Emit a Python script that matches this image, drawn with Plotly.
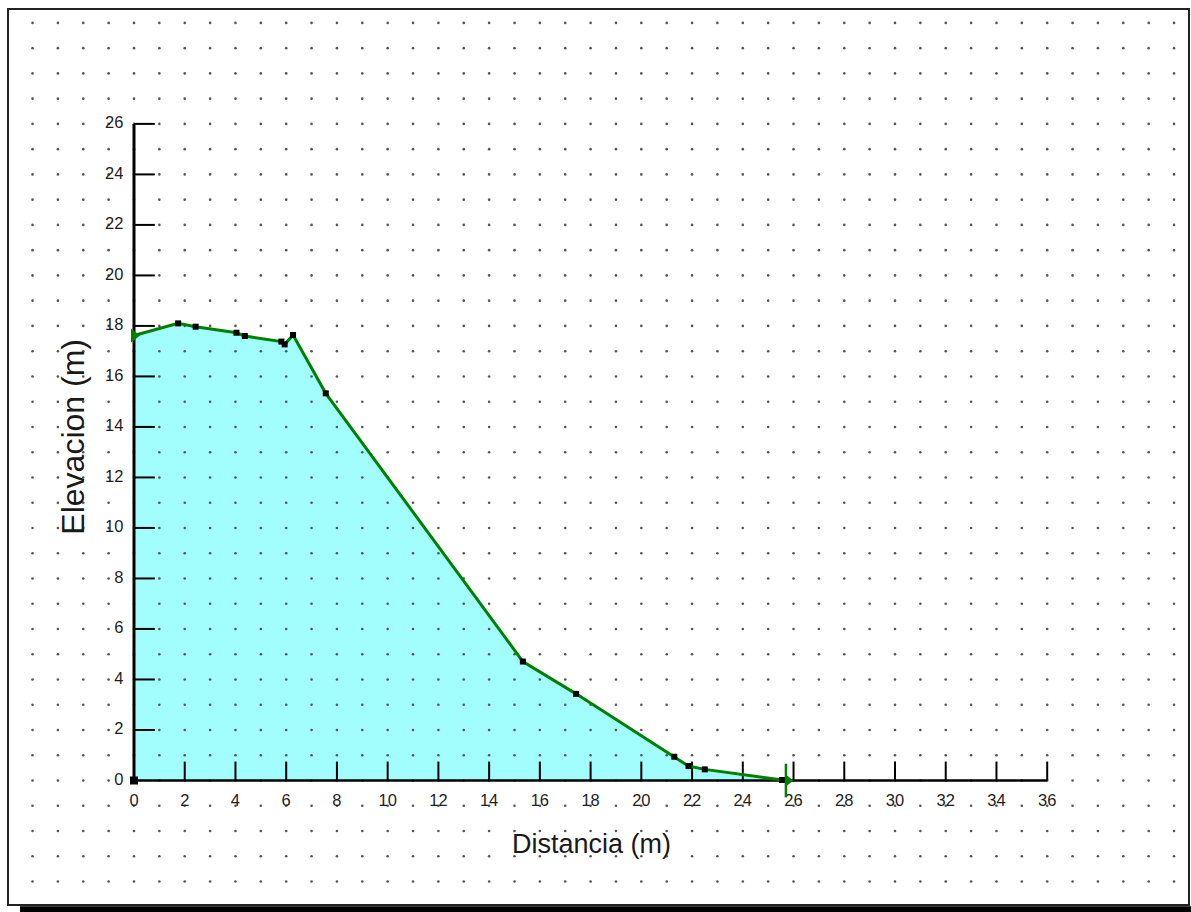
import plotly.graph_objects as go

# ---- data ----
dist_line = [0.0, 1.74, 2.43, 4.04, 4.37, 5.81, 5.94, 6.27, 7.56, 15.33, 17.43, 21.30, 21.86, 22.50, 25.70]
elev_line = [17.62, 18.10, 17.97, 17.73, 17.60, 17.38, 17.27, 17.64, 15.33, 4.71, 3.43, 0.94, 0.57, 0.44, 0.0]

pts_x = [1.74, 2.43, 4.04, 4.37, 5.81, 5.94, 6.27, 7.56, 15.33, 17.43, 21.30, 21.86, 22.50, 25.55]
pts_y = [18.10, 17.97, 17.73, 17.60, 17.38, 17.27, 17.64, 15.33, 4.71, 3.43, 0.94, 0.57, 0.44, 0.02]
origin_x = [0.0]
origin_y = [0.0]

x_ticks = list(range(0, 37, 2))
y_ticks = list(range(0, 27, 2))
x_title = "Distancia (m)"
y_title = "Elevacion (m)"

X_MAX, Y_MAX = 36, 26
X_RANGE = [-4.967, 41.59]
Y_RANGE = [-4.931, 30.55]

FONT = "Liberation Sans, Arial, sans-serif"

fig = go.Figure()

# filled profile
fig.add_trace(go.Scatter(x=dist_line, y=elev_line, mode="lines", fill="tozeroy",
                         fillcolor="#a2fdfd", line=dict(width=0, color="#a2fdfd"),
                         hoverinfo="skip", showlegend=False))

# dot grid at integer positions
gx, gy = [], []
for i in range(-4, 42):
    for j in range(-4, 31):
        gx.append(i)
        gy.append(j)
fig.add_trace(go.Scatter(x=gx, y=gy, mode="markers",
                         marker=dict(size=2.6, color="#555555", line=dict(width=0)),
                         hoverinfo="skip", showlegend=False))

# axis lines
fig.add_trace(go.Scatter(x=[0, X_MAX], y=[0, 0], mode="lines",
                         line=dict(color="black", width=2.5), hoverinfo="skip", showlegend=False))
fig.add_trace(go.Scatter(x=[0, 0], y=[0, Y_MAX], mode="lines",
                         line=dict(color="black", width=3), hoverinfo="skip", showlegend=False))

# tick marks (inside)
tx, ty = [], []
for t in x_ticks:
    if t == 0:
        continue
    tx += [t, t, None]
    ty += [0, 0.75, None]
for t in y_ticks:
    if t == 0:
        continue
    tx += [0, 0.82, None]
    ty += [t, t, None]
fig.add_trace(go.Scatter(x=tx, y=ty, mode="lines", line=dict(color="black", width=2),
                         hoverinfo="skip", showlegend=False))

# tick labels
fig.add_trace(go.Scatter(x=x_ticks, y=[-0.85] * len(x_ticks), mode="text",
                         text=[str(t) for t in x_ticks], textposition="middle center",
                         textfont=dict(family=FONT, size=16.5, color="#1e1e1e"),
                         hoverinfo="skip", showlegend=False))
fig.add_trace(go.Scatter(x=[-0.42] * len(y_ticks), y=y_ticks, mode="text",
                         text=[str(t) for t in y_ticks], textposition="middle left",
                         textfont=dict(family=FONT, size=16.5, color="#1e1e1e"),
                         hoverinfo="skip", showlegend=False))

# profile line
fig.add_trace(go.Scatter(x=dist_line, y=elev_line, mode="lines",
                         line=dict(color="#008000", width=3),
                         hoverinfo="skip", showlegend=False))

# black square points
fig.add_trace(go.Scatter(x=pts_x, y=pts_y, mode="markers",
                         marker=dict(symbol="square", size=6, color="black", line=dict(width=0)),
                         hoverinfo="skip", showlegend=False))
fig.add_trace(go.Scatter(x=origin_x, y=origin_y, mode="markers",
                         marker=dict(symbol="square", size=8, color="black", line=dict(width=0)),
                         hoverinfo="skip", showlegend=False))

# start / end markers
fig.add_trace(go.Scatter(x=[dist_line[0]], y=[elev_line[0]], mode="markers",
                         marker=dict(symbol="triangle-right", size=12, color="#008000", line=dict(width=0)),
                         hoverinfo="skip", showlegend=False))
fig.add_trace(go.Scatter(x=[dist_line[-1]], y=[elev_line[-1]], mode="markers",
                         marker=dict(symbol="line-ns", size=24, color="#008000",
                                     line=dict(width=2.5, color="#008000")),
                         hoverinfo="skip", showlegend=False))
fig.add_trace(go.Scatter(x=[dist_line[-1] + 0.12], y=[elev_line[-1]], mode="markers",
                         marker=dict(symbol="triangle-right", size=9, color="#008000", line=dict(width=0)),
                         hoverinfo="skip", showlegend=False))

fig.update_layout(
    width=1191, height=912,
    margin=dict(l=8, r=2, t=9, b=7),
    paper_bgcolor="white", plot_bgcolor="white",
    xaxis=dict(range=X_RANGE, visible=False, fixedrange=True),
    yaxis=dict(range=Y_RANGE, visible=False, fixedrange=True),
    annotations=[
        dict(x=18.05, y=-2.5, xref="x", yref="y", text=x_title, showarrow=False,
             font=dict(family=FONT, size=27, color="#1a1a1a")),
        dict(x=-2.42, y=13.6, xref="x", yref="y", text=y_title, showarrow=False, textangle=-90,
             font=dict(family=FONT, size=32, color="#1a1a1a")),
    ],
    shapes=[
        dict(type="rect", xref="paper", yref="paper", x0=0, x1=1, y0=0, y1=1,
             line=dict(color="#222222", width=2), fillcolor="rgba(0,0,0,0)"),
        dict(type="rect", xref="paper", yref="paper", x0=0.0102, x1=1.0017, y0=-0.0078, y1=-0.0015,
             line=dict(width=0), fillcolor="black"),
    ],
)

fig.write_html("out.html")
